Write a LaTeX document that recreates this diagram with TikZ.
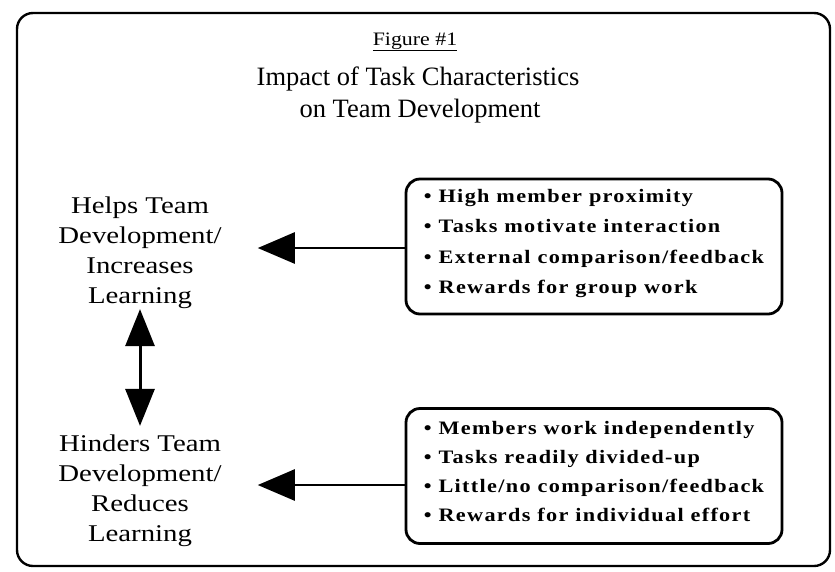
\documentclass[tikz,border=0pt]{standalone}
\usepackage{fontspec}
\setmainfont{Liberation Serif}
\newfontfamily\labfont{Liberation Serif}[FakeStretch=1.2]
\newfontfamily\figfont{Liberation Serif}[FakeStretch=1.15]
\newfontfamily\bulfont{Liberation Serif}[FakeStretch=1.17,LetterSpace=7]
\usetikzlibrary{arrows.meta}
\newcommand{\lowpad}{\rule[-10pt]{0pt}{10pt}}
\tikzset{
  frame/.style={draw, line width=2.4pt, rounded corners=16pt},
  listbox/.style={draw, line width=2.8pt, rounded corners=14pt, minimum width=376pt, minimum height=135pt, align=left, inner sep=0pt, font=\bulfont\bfseries\fontsize{19}{30.5}\selectfont},
  label/.style={align=center, inner sep=0pt, font=\labfont\fontsize{24}{30}\selectfont},
  bigarrow/.style={line width=2.6pt, -{Triangle[length=37pt,width=31pt]}},
  dblarrow/.style={line width=3pt, {Triangle[length=37pt,width=29pt]}-{Triangle[length=37pt,width=29pt]}}
}
\begin{document}
\begin{tikzpicture}[x=1pt,y=-1pt]
\useasboundingbox (0,0) rectangle (835,571);
\draw[frame] (17,13) rectangle (830,566);
\node[font=\figfont\fontsize{19}{22}\selectfont, anchor=base, inner sep=0pt] (fig) at (415,45) {\underline{Figure \#1}};
\node[font=\fontsize{26.5}{33}\selectfont, anchor=base, inner sep=0pt] (t1) at (418,85) {Impact of Task Characteristics};
\node[font=\fontsize{26.5}{33}\selectfont, anchor=base, inner sep=0pt] (t2) at (420,117) {on Team Development};
\node[label] (lab1) at (140,253) {Helps Team\\Development/\\Increases\\Learning};
\node[label] (lab2) at (140,491) {Hinders Team\\Development/\\Reduces\\Learning};
\node[listbox] (box1) at (594,246.5) {\textbullet\ High member proximity\\\textbullet\ Tasks motivate interaction\\\textbullet\ External comparison/feedback\\\textbullet\ Rewards for group work\lowpad};
\node[listbox, font=\bulfont\bfseries\fontsize{19}{29}\selectfont] (box2) at (594,476) {\textbullet\ Members work independently\\\textbullet\ Tasks readily divided-up\\\textbullet\ Little/no comparison/feedback\\\textbullet\ Rewards for individual effort\lowpad};
\draw[bigarrow, shorten >=36pt] (box1.west |- 0,248) -- (lab1.east |- 0,248);
\draw[bigarrow, shorten >=36pt] (box2.west |- 0,485) -- (lab2.east |- 0,485);
\draw[dblarrow, shorten <=0pt, shorten >=9pt] (lab1.south) -- (lab2.north);
\end{tikzpicture}
\end{document}
